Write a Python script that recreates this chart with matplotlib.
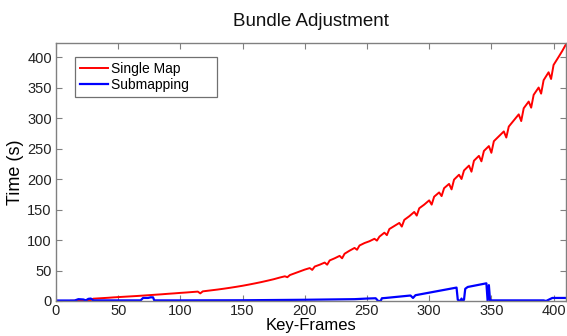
import matplotlib
matplotlib.use("Agg")
import matplotlib.pyplot as plt

plt.rcParams['font.family'] = ['Liberation Sans', 'DejaVu Sans']

# ---- data ----
single_x = [12, 16, 20, 24, 28, 30, 34, 38, 42, 46, 50, 55, 60, 65, 70, 75, 80, 85, 90, 95,
            100, 105, 110, 114, 116, 118, 122, 126, 130, 135, 140, 145, 150, 155, 160, 165,
            170, 175, 180, 184, 186, 188, 192, 196, 200, 204, 206, 208, 212, 216, 218, 220,
            224, 228, 230, 232, 236, 240, 242, 244, 248, 252, 256, 258, 260, 264, 266, 268,
            272, 276, 278, 280, 284, 288, 290, 292, 296, 300, 302, 304, 308, 310, 312, 316,
            318, 320, 324, 326, 328, 332, 334, 336, 340, 342, 344, 348, 350, 352, 356, 360,
            362, 364, 368, 372, 374, 376, 380, 382, 384, 388, 390, 392, 396, 398, 400, 404,
            407, 410]
single_y = [0.3, 0.5, 0.8, 1.0, 1.5, 3.8, 4.3, 4.8, 5.3, 5.9, 6.4, 7.0, 7.6, 8.2, 8.9, 9.6,
            10.3, 11.0, 11.8, 12.5, 13.3, 14.0, 14.8, 15.4, 12.5, 15.8, 16.8, 17.8, 18.8,
            20.2, 21.7, 23.3, 25.0, 26.9, 28.9, 31.0, 33.3, 35.7, 38.5, 40.5, 39.0, 42.5,
            45.5, 48.5, 51.5, 54.0, 51.0, 56.5, 59.5, 63.0, 59.5, 66.5, 70.0, 74.0, 70.0,
            77.5, 82.5, 87.0, 84.0, 91.0, 95.0, 98.0, 102.0, 99.0, 105.5, 112.0, 108.0,
            118.0, 123.0, 128.0, 122.0, 133.0, 139.0, 146.0, 140.0, 152.0, 158.0, 165.0,
            158.0, 171.0, 178.0, 172.0, 185.0, 192.0, 183.0, 199.0, 207.0, 200.0, 214.0,
            222.0, 212.0, 230.0, 238.0, 229.0, 246.0, 254.0, 243.0, 262.0, 270.0, 278.0,
            268.0, 286.0, 296.0, 306.0, 295.0, 316.0, 327.0, 317.0, 338.0, 350.0, 340.0,
            362.0, 375.0, 364.0, 387.0, 400.0, 410.0, 421.0]

sub_x = [0, 15, 18, 22, 24, 26, 28, 30, 68, 70, 74, 76, 78, 79, 100, 150, 200, 240, 250,
         257, 259, 261, 262, 265, 285, 287, 289, 322, 323, 325, 326, 327, 328, 329, 331,
         346, 347, 348, 349, 350, 392, 394, 396, 399, 410]
sub_y = [0.8, 0.8, 3.0, 2.5, 1.0, 3.5, 4.0, 1.0, 1.0, 5.0, 5.0, 6.0, 6.0, 1.0, 1.0, 1.2,
         2.0, 3.0, 4.0, 4.5, 0.0, 0.0, 4.5, 5.0, 9.0, 5.0, 9.5, 22.0, 2.0, 0.0, 4.0, 0.0,
         2.0, 20.0, 23.0, 29.0, 0.0, 26.0, 0.0, 1.0, 1.0, 0.0, 2.0, 5.0, 5.0]

series_labels = ["Single Map", "Submapping"]
x_ticks = [0, 50, 100, 150, 200, 250, 300, 350, 400]
y_ticks = [0, 50, 100, 150, 200, 250, 300, 350, 400]

# ---- figure ----
fig = plt.figure(figsize=(5.67, 3.36), dpi=100)
ax = fig.add_axes([56 / 567, 35 / 336, 510 / 567, 258 / 336])

ax.plot(single_x, single_y, color='#ff0000', lw=1.4, label=series_labels[0] + "        ")
ax.plot(sub_x, sub_y, color='#0000ff', lw=1.6, label=series_labels[1] + "      ")

ax.set_xlim(0, 410)
ax.set_ylim(0, 423)
ax.set_xticks(x_ticks)
ax.set_yticks(y_ticks)

for s in ax.spines.values():
    s.set_color('#808080')
    s.set_linewidth(1.0)
ax.tick_params(direction='in', top=True, right=True, length=4, width=0.8,
               color='#808080', labelsize=10.5, labelcolor='#222222', pad=3)
ax.tick_params(axis='x', pad=2)

ax.set_title("Bundle Adjustment", fontsize=13.5, pad=12, color='#111111')
ax.set_ylabel("Time (s)", fontsize=13, labelpad=2)
ax.set_xlabel("Key-Frames", fontsize=12, labelpad=0)

leg = ax.legend(loc='upper left', bbox_to_anchor=(19 / 510, 1 - 14 / 258),
                borderaxespad=0, fontsize=10, fancybox=False, framealpha=1,
                edgecolor='#707070', handlelength=2.0, handletextpad=0.25,
                labelspacing=0.15, borderpad=0.35)
leg.get_frame().set_linewidth(0.9)

fig.savefig("out.png", dpi=100)
